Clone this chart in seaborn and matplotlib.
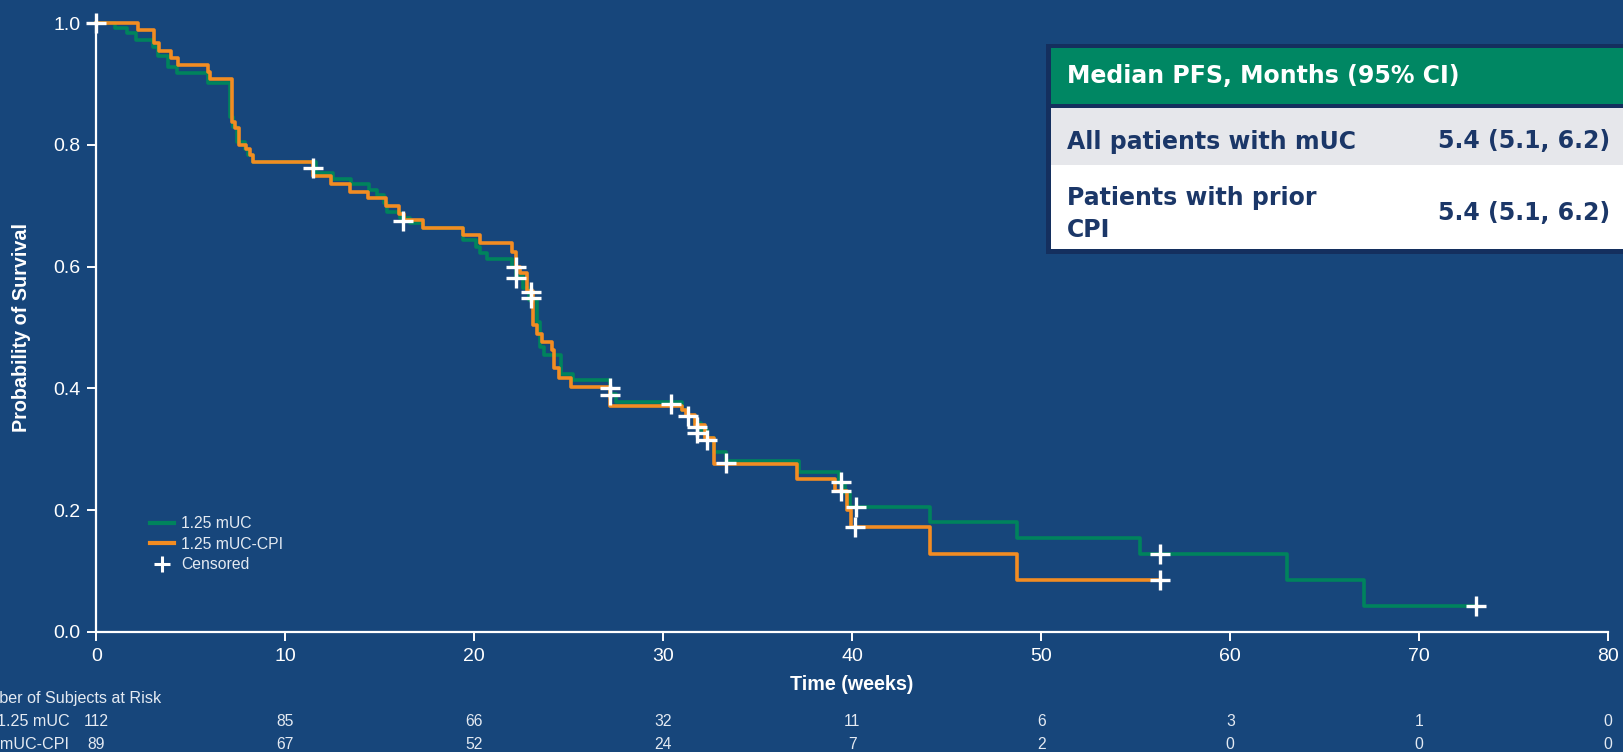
import matplotlib
matplotlib.use("Agg")
import matplotlib.pyplot as plt
import matplotlib.transforms as mtransforms
from matplotlib.patches import Rectangle
from matplotlib.lines import Line2D
import seaborn as sns

# ---------------- data ----------------
muc_weeks = [0, 0.99, 1.64, 2.10, 2.98, 3.28, 3.78, 4.25, 5.93, 7.07,
             7.25, 7.45, 7.85, 8.05, 8.3, 11.6, 12.55, 13.5, 14.45, 14.87,
             15.2, 15.4, 16.05, 16.6, 17.3, 19.42, 20.1, 20.3, 20.65, 22.0,
             22.2, 22.6, 22.9, 23.3, 23.5, 23.7, 24.6, 25.2, 27.2, 27.5,
             31.0, 31.3, 31.7, 32.0, 32.3, 32.7, 33.3, 37.2, 39.3, 39.6,
             39.9, 44.1, 48.7, 55.2, 63.0, 67.05, 73.0]
muc_surv = [1.0, 0.991, 0.983, 0.972, 0.961, 0.945, 0.928, 0.918, 0.901, 0.846,
            0.830, 0.805, 0.793, 0.783, 0.771, 0.753, 0.744, 0.736, 0.726, 0.718,
            0.704, 0.690, 0.680, 0.671, 0.663, 0.644, 0.633, 0.622, 0.612, 0.600,
            0.585, 0.565, 0.545, 0.509, 0.468, 0.455, 0.424, 0.413, 0.390, 0.378,
            0.365, 0.355, 0.343, 0.331, 0.318, 0.295, 0.281, 0.263, 0.245, 0.228,
            0.205, 0.180, 0.155, 0.128, 0.085, 0.042, 0.042]

cpi_weeks = [0, 2.19, 3.05, 3.34, 3.94, 4.34, 5.89, 6.02, 7.16, 7.34,
             7.57, 7.92, 8.11, 8.31, 11.48, 12.42, 13.42, 14.4, 15.33, 16.03,
             16.3, 17.3, 19.42, 20.3, 22.01, 22.2, 22.4, 22.8, 23.1, 23.3,
             23.6, 24.1, 24.2, 24.5, 25.1, 27.2, 31.0, 31.2, 31.7, 32.2,
             32.7, 37.1, 39.1, 39.7, 39.95, 44.1, 48.7, 56.3]
cpi_surv = [1.0, 0.988, 0.967, 0.954, 0.943, 0.931, 0.920, 0.908, 0.838, 0.828,
            0.799, 0.793, 0.783, 0.771, 0.748, 0.735, 0.723, 0.712, 0.700, 0.686,
            0.677, 0.663, 0.652, 0.638, 0.624, 0.600, 0.589, 0.560, 0.504, 0.490,
            0.477, 0.463, 0.433, 0.417, 0.402, 0.371, 0.365, 0.356, 0.340, 0.318,
            0.276, 0.252, 0.231, 0.2005, 0.172, 0.128, 0.086, 0.086]

cens_weeks = [0, 11.45, 16.25, 22.2, 22.2, 23.0, 23.0, 27.2, 27.2, 30.4, 31.3,
              31.8, 31.8, 32.3, 33.3, 39.4, 39.4, 40.2, 40.15, 56.3, 56.3, 73.0]
cens_surv = [1.0, 0.762, 0.675, 0.599, 0.582, 0.558, 0.549, 0.400, 0.389, 0.375, 0.355,
             0.337, 0.326, 0.316, 0.278, 0.247, 0.231, 0.205, 0.172, 0.128, 0.086, 0.042]

series_labels = ["1.25 mUC", "1.25 mUC-CPI", "Censored"]

risk_weeks = [0, 10, 20, 30, 40, 50, 60, 70, 80]
risk_muc = [112, 85, 66, 32, 11, 6, 3, 1, 0]
risk_cpi = [89, 67, 52, 24, 7, 2, 0, 0, 0]
risk_title = "Number of Subjects at Risk"

x_ticks = [0, 10, 20, 30, 40, 50, 60, 70, 80]
y_ticks = [0.0, 0.2, 0.4, 0.6, 0.8, 1.0]

table_header = "Median PFS, Months (95% CI)"
table_rows = ["All patients with mUC", "Patients with prior\nCPI"]
table_values = ["5.4 (5.1, 6.2)", "5.4 (5.1, 6.2)"]

# ---------------- style ----------------
BG = "#17467B"
GREEN = "#00835D"
ORANGE = "#F28C22"
WHITE = "#FFFFFF"
LIGHT = "#E4EAF2"
HEAD_GREEN = "#008763"
NAVY_TXT = "#1B3768"
BORDER = "#142F5E"

plt.rcParams["font.family"] = ["Liberation Sans", "DejaVu Sans"]

W, H = 1623, 752
fig = plt.figure(figsize=(W / 100, H / 100), dpi=100)
fig.patch.set_facecolor(BG)

x0, x1 = 96.3, 1608.3
y_top, y_bot = 23.0, 632.0
ax = fig.add_axes([x0 / W, 1 - y_bot / H, (x1 - x0) / W, (y_bot - y_top) / H])
ax.set_facecolor(BG)

sns.lineplot(x=muc_weeks, y=muc_surv, drawstyle="steps-post", estimator=None,
             sort=False, color=GREEN, linewidth=2.6, ax=ax, label=series_labels[0])
sns.lineplot(x=cpi_weeks, y=cpi_surv, drawstyle="steps-post", estimator=None,
             sort=False, color=ORANGE, linewidth=2.6, ax=ax, label=series_labels[1])
for ln in ax.get_lines():
    ln.set_clip_on(False)
sns.scatterplot(x=cens_weeks, y=cens_surv, marker="+", s=220, color=WHITE,
                linewidth=2.4, ax=ax, zorder=5, label=series_labels[2])
for coll in ax.collections:
    coll.set_clip_on(False)

ax.set_xlim(0, 80)
ax.set_ylim(0, 1.0)
ax.set_xticks(x_ticks)
ax.set_xticklabels([str(t) for t in x_ticks])
ax.set_yticks(y_ticks)
ax.set_yticklabels([f"{v:.1f}" for v in y_ticks])
ax.tick_params(axis="both", colors=WHITE, labelcolor=WHITE, length=6.3, width=1.4,
               labelsize=14, pad=5.2, direction="out")
for s in ["top", "right"]:
    ax.spines[s].set_visible(False)
for s in ["left", "bottom"]:
    ax.spines[s].set_color(WHITE)
    ax.spines[s].set_linewidth(1.6)
ax.set_xlabel("")
ax.set_ylabel("")

fig.text(852 / W, 1 - 684.5 / H, "Time (weeks)", ha="center", va="center",
         fontsize=14.2, fontweight="bold", color=WHITE)
fig.text(21.7 / W, 1 - 327.5 / H, "Probability of Survival", ha="center", va="center",
         rotation=90, fontsize=14.2, fontweight="bold", color=WHITE)

# legend
handles = [Line2D([], [], color=GREEN, lw=3.0),
           Line2D([], [], color=ORANGE, lw=3.0),
           Line2D([], [], color=WHITE, marker="+", ls="none", ms=12, mew=2.2)]
ax.legend(handles, series_labels, loc="upper left",
          bbox_to_anchor=(150 / W, 1 - 516 / H), bbox_transform=fig.transFigure,
          frameon=False, fontsize=11.3, labelcolor=LIGHT, handlelength=1.55,
          handletextpad=0.45, labelspacing=0.36, borderpad=0, borderaxespad=0)

# at-risk table
RISK_FS = 11.3
blend = mtransforms.blended_transform_factory(ax.transData, fig.transFigure)
for t, n in zip(risk_weeks, risk_muc):
    ax.text(t, 1 - 722.0 / H, str(n), transform=blend, ha="center", va="center",
            fontsize=RISK_FS, color=LIGHT, clip_on=False)
for t, n in zip(risk_weeks, risk_cpi):
    ax.text(t, 1 - 744.3 / H, str(n), transform=blend, ha="center", va="center",
            fontsize=RISK_FS, color=LIGHT, clip_on=False)
fig.text(161 / W, 1 - 698 / H, risk_title, ha="right", va="center", fontsize=11.6, color=LIGHT)
fig.text(69.3 / W, 1 - 722.0 / H, series_labels[0], ha="right", va="center", fontsize=11.6, color=LIGHT)
fig.text(69.3 / W, 1 - 744.3 / H, series_labels[1], ha="right", va="center", fontsize=11.6, color=LIGHT)

# median PFS table (figure overlay)
def rect(xa, ya, xb, yb, color):
    fig.add_artist(Rectangle((xa / W, 1 - yb / H), (xb - xa) / W, (yb - ya) / H,
                             transform=fig.transFigure, facecolor=color,
                             edgecolor="none", zorder=10))

rect(1046, 43.5, W + 2, 254, BORDER)
rect(1051, 48.5, W + 2, 104, HEAD_GREEN)
rect(1051, 108.5, W + 2, 165, "#E6E7EB")
rect(1051, 165, W + 2, 249.5, "#FFFFFF")

tf = dict(family="DejaVu Sans", fontweight="bold", fontsize=17, zorder=11)
fig.text(1067 / W, 1 - 76 / H, table_header, ha="left", va="center", color=WHITE, **tf)
fig.text(1067 / W, 1 - 141.5 / H, table_rows[0], ha="left", va="center", color=NAVY_TXT, **tf)
fig.text(1610 / W, 1 - 141.5 / H, table_values[0], ha="right", va="center", color=NAVY_TXT, **tf)
fig.text(1067 / W, 1 - 214 / H, table_rows[1], ha="left", va="center", color=NAVY_TXT,
         linespacing=1.45, **tf)
fig.text(1610 / W, 1 - 213 / H, table_values[1], ha="right", va="center", color=NAVY_TXT, **tf)

fig.savefig("out.png", dpi=100, facecolor=fig.get_facecolor())
